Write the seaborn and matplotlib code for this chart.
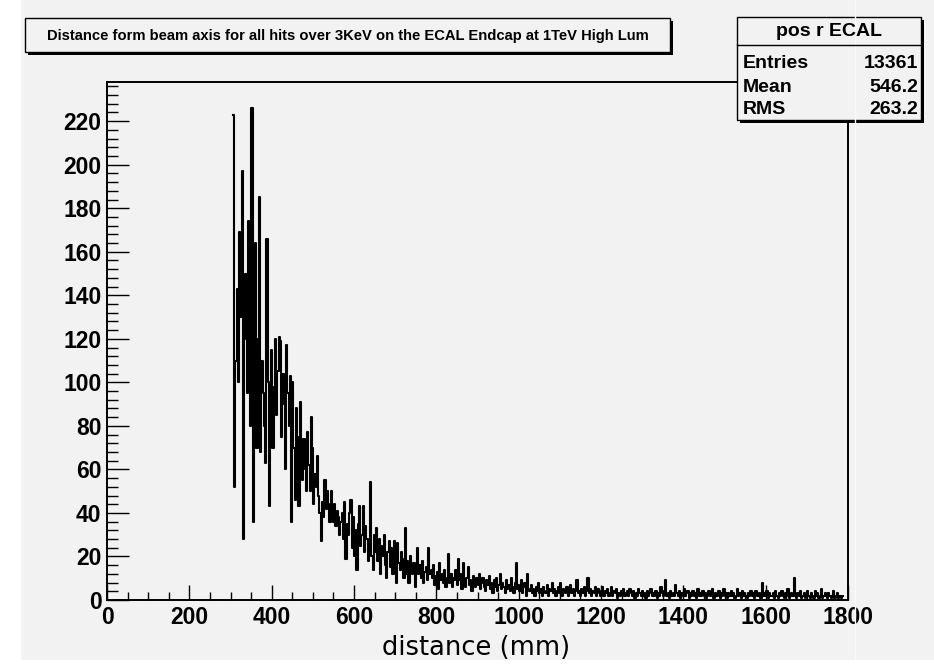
import numpy as np
import pandas as pd
import matplotlib
import matplotlib.pyplot as plt
from matplotlib.patches import Rectangle
from matplotlib.lines import Line2D
from matplotlib.ticker import MultipleLocator
import seaborn as sns

matplotlib.use("Agg")

# histogram of hit distance (mm), 3 mm bins starting at 306 mm
bin_start = 306
bin_width = 3
counts = [
    223, 52, 110, 143, 100, 169, 130, 197, 28, 120, 150, 95, 174, 118, 80, 226, 36, 105, 164, 70,
    120, 185, 68, 110, 95, 80, 63, 166, 100, 43, 90, 115, 70, 98, 120, 85, 105, 121, 119, 75,
    104, 90, 60, 117, 95, 80, 103, 36, 100, 70, 46, 88, 75, 43, 91, 65, 55, 74, 60, 50,
    77, 62, 50, 84, 70, 44, 58, 52, 66, 48, 40, 27, 45, 38, 55, 42, 50, 44, 36, 50,
    40, 36, 44, 34, 41, 38, 30, 36, 40, 28, 45, 19, 35, 30, 40, 46, 24, 38, 20, 32,
    14, 35, 43, 25, 30, 43, 22, 34, 28, 18, 25, 54, 20, 14, 30, 22, 33, 18, 28, 12,
    25, 20, 30, 16, 10, 22, 27, 15, 24, 12, 27, 20, 8, 26, 17, 14, 22, 19, 10, 33,
    12, 18, 8, 20, 15, 12, 17, 6, 14, 24, 12, 16, 10, 18, 8, 13, 15, 9, 24, 12,
    14, 10, 16, 7, 11, 13, 5, 17, 9, 12, 8, 14, 6, 10, 21, 8, 12, 6, 10, 9,
    14, 7, 19, 9, 12, 5, 17, 8, 6, 10, 15, 7, 9, 4, 11, 8, 6, 10, 7, 12,
    5, 8, 10, 6, 4, 9, 7, 11, 5, 8, 3, 9, 6, 10, 4, 7, 12, 5, 8, 6,
    3, 9, 5, 7, 4, 10, 6, 3, 8, 17, 5, 7, 4, 9, 3, 6, 8, 2, 12, 5,
    4, 7, 3, 5, 2, 6, 4, 8, 3, 5, 2, 6, 4, 3, 7, 2, 5, 4, 8, 3,
    5, 2, 4, 6, 3, 8, 2, 5, 4, 3, 6, 2, 4, 7, 3, 5, 2, 4, 9, 3,
    4, 2, 5, 3, 6, 2, 4, 10, 3, 5, 2, 4, 3, 6, 2, 5, 3, 2, 4, 6,
    2, 4, 3, 5, 2, 3, 6, 2, 4, 3, 5, 1, 3, 2, 4, 3, 5, 2, 3, 4,
    2, 5, 3, 2, 4, 1, 3, 2, 5, 3, 2, 4, 2, 3, 1, 4, 2, 3, 5, 2,
    3, 2, 4, 1, 3, 2, 6, 3, 2, 4, 9, 2, 3, 1, 4, 2, 3, 2, 7, 3,
    2, 4, 1, 3, 2, 5, 2, 3, 4, 1, 3, 2, 4, 2, 3, 1, 5, 2, 3, 2,
    4, 2, 3, 1, 2, 4, 2, 3, 5, 1, 3, 2, 2, 4, 1, 3, 2, 5, 2, 3,
    1, 3, 2, 4, 2, 3, 1, 2, 5, 2, 3, 1, 4, 2, 3, 2, 1, 3, 2, 4,
    2, 3, 1, 4, 2, 2, 3, 1, 8, 2, 3, 2, 4, 1, 3, 2, 2, 3, 1, 4,
    2, 1, 3, 2, 4, 2, 1, 3, 2, 5, 1, 2, 3, 2, 10, 2, 1, 3, 2, 4,
    1, 2, 3, 1, 2, 4, 2, 1, 3, 2, 1, 4, 2, 3, 1, 2, 5, 1, 2, 3,
    2, 1, 3, 2, 1, 2, 4, 1, 2, 3, 1, 2, 1, 2,
]

x_ticks = [0, 200, 400, 600, 800, 1000, 1200, 1400, 1600, 1800]
y_ticks = [0, 20, 40, 60, 80, 100, 120, 140, 160, 180, 200, 220]

title = "Distance form beam axis for all hits over 3KeV on the ECAL Endcap at 1TeV High Lum"
stats_name = "pos r ECAL"
stats_rows = [("Entries", "13361"), ("Mean", "546.2"), ("RMS", "263.2")]

W, H = 934, 666
BG = "#f2f2f2"

plt.rcParams.update({
    "font.family": ["Liberation Sans", "DejaVu Sans"],
    "font.weight": "bold",
})


def fx(x):
    return x / W


def fy(y):
    return 1 - y / H


def box(fig, x0, y0, x1, y1, shadow=3):
    fig.add_artist(Rectangle((fx(x0 + shadow), fy(y1 + shadow)), fx(x1 - x0), (y1 - y0) / H,
                             transform=fig.transFigure, facecolor="black", edgecolor="none"))
    fig.add_artist(Rectangle((fx(x0), fy(y1)), fx(x1 - x0), (y1 - y0) / H,
                             transform=fig.transFigure, facecolor=BG, edgecolor="black", linewidth=1))


fig = plt.figure(figsize=(W / 100, H / 100), dpi=100)
fig.patch.set_facecolor(BG)
fig.add_artist(Rectangle((0, 0), fx(20), 1, transform=fig.transFigure, color="white"))
fig.add_artist(Rectangle((0, 0), 1, 6 / H, transform=fig.transFigure, color="white"))
fig.add_artist(Line2D([fx(855), fx(855)], [fy(660), 1], transform=fig.transFigure,
                      color="#fafafa", lw=1))

ax = fig.add_axes([fx(107), fy(600), fx(741), 518 / H])
ax.set_facecolor(BG)

edges = bin_start + bin_width * np.arange(len(counts) + 1)
hist = pd.DataFrame({"distance": edges[:-1] + bin_width / 2, "n": np.array(counts, dtype=float)})
sns.histplot(data=hist, x="distance", weights="n", bins=list(edges), element="step", fill=False,
             color="black", linewidth=1.5, ax=ax)

ax.set_xlim(0, 1800)
ax.set_ylim(0, 238)
ax.set_xlabel("")
ax.set_ylabel("")
ax.set_xticks(x_ticks)
ax.set_yticks(y_ticks)
ax.xaxis.set_minor_locator(MultipleLocator(50))
ax.yaxis.set_minor_locator(MultipleLocator(4))
for s in ax.spines.values():
    s.set_linewidth(1.4)
    s.set_color("black")
ax.tick_params(axis="x", which="major", direction="in", length=11, width=1, pad=4, labelsize=16.5)
ax.tick_params(axis="x", which="minor", direction="in", length=5.6, width=1)
ax.tick_params(axis="y", which="major", direction="in", length=15.8, width=1, pad=4, labelsize=16.5)
ax.tick_params(axis="y", which="minor", direction="in", length=7.9, width=1)
for lab in ax.get_xticklabels() + ax.get_yticklabels():
    lab.set_fontweight("bold")

fig.text(fx(476), fy(648), "distance (mm)", ha="center", va="center",
         fontsize=18.5, fontweight="normal", family="DejaVu Sans")

# title box
box(fig, 25, 18, 670, 52)
fig.text(fx(348), fy(36), title, ha="center", va="center", fontsize=10.6, fontweight="bold")

# stats box
box(fig, 737, 17, 921, 120)
fig.add_artist(Line2D([fx(737), fx(921)], [fy(45), fy(45)], transform=fig.transFigure,
                      color="black", lw=1))
fig.text(fx(829), fy(32), stats_name, ha="center", va="center", fontsize=14, fontweight="bold")
for i, (k, v) in enumerate(stats_rows):
    yy = 64 + 23 * i
    fig.text(fx(743), fy(yy), k, ha="left", va="center", fontsize=14, fontweight="bold")
    fig.text(fx(918), fy(yy), v, ha="right", va="center", fontsize=14, fontweight="bold")

fig.savefig("out.png", dpi=100, facecolor=fig.get_facecolor())
